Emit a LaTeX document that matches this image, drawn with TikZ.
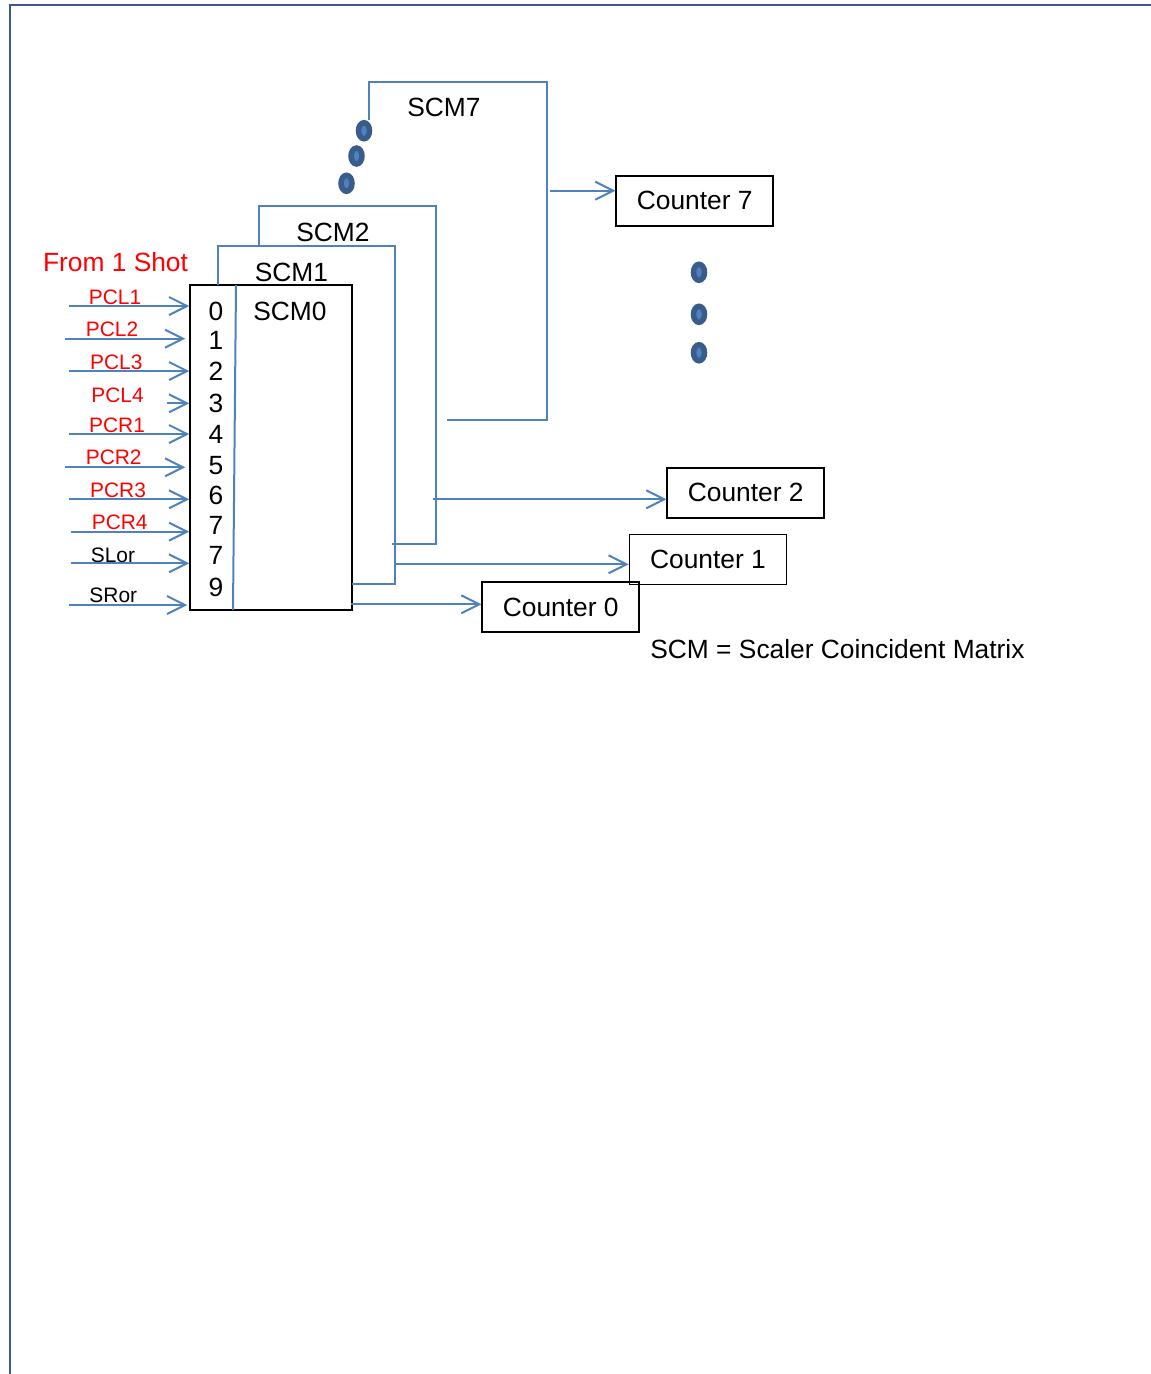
\documentclass[tikz,border=0pt]{standalone}
\usepackage{fontspec}
\setmainfont{Liberation Sans}
\usetikzlibrary{arrows.meta, positioning, calc}
\definecolor{linkblue}{RGB}{79, 129, 189}
\definecolor{dotblue}{RGB}{56, 93, 138}
\definecolor{framenavy}{RGB}{62, 88, 140}
\definecolor{shotred}{RGB}{255, 0, 0}
\newcommand{\mainsize}{\fontsize{15}{17}\selectfont}
\newcommand{\insize}{\fontsize{11.9}{14}\selectfont}
\tikzset{
  cnt box/.style  = {rectangle, draw=black, line width=0.03cm, minimum width=3.14cm, minimum height=1cm, inner sep=0pt, font=\mainsize},
  scm box/.style  = {rectangle, draw=black, line width=0.03cm, minimum width=3.24cm, minimum height=6.5cm, inner sep=0pt},
  link/.style     = {draw=linkblue, line width=0.04cm},
  flow/.style     = {-{Straight Barb[length=0.36cm, width=0.36cm]}, link},
  scmlab/.style   = {font=\mainsize, inner sep=0pt},
  inlab/.style    = {font=\insize, text=shotred, inner sep=0pt},
  dotmark/.style  = {draw=dotblue, fill=linkblue, line width=0.11cm},
}

\begin{document}
\begin{tikzpicture}[x=0.02cm, y=-0.02cm]

\useasboundingbox (0,0) rectangle (1151,1374);

% ==================== frame ====================
\draw[framenavy, line width=0.035cm] (1151,5) -- (10,5) -- (10,1374);

% ==================== SCM0 ====================
\node[scm box] (scm0) at (271,447.5) {};
\draw[link] (236,285) -- (233,610);
\node[scmlab] (l0) at (290,311) {SCM0};

\node[scmlab] (d0) at (216,311)   {0};
\node[scmlab] (d1) at (216,340)   {1};
\node[scmlab] (d2) at (216,371)   {2};
\node[scmlab] (d3) at (216,403)   {3};
\node[scmlab] (d4) at (216,434)   {4};
\node[scmlab] (d5) at (216,465.5) {5};
\node[scmlab] (d6) at (216,495.5) {6};
\node[scmlab] (d7) at (216,525.5) {7};
\node[scmlab] (d8) at (216,555.5) {7};
\node[scmlab] (d9) at (216,587)   {9};

% ==================== SCM1, SCM2, SCM7 ====================
\draw[link] (218,285) -- (218,246) -- (395,246) -- (395,584.3) -- (352,584.3);
\node[scmlab] (l1) at (291.5,272) {SCM1};

\draw[link] (259,246) -- (259,205.7) -- (435.7,205.7) -- (435.7,544) -- (392,544);
\node[scmlab] (l2) at (333,232) {SCM2};

\draw[link] (369,120) -- (369,82) -- (546.7,82) -- (546.7,420) -- (446.7,420);
\node[scmlab] (l7) at (444,107.5) {SCM7};

\draw[dotmark] (364,130.7) ellipse [x radius=0.11cm, y radius=0.16cm];
\draw[dotmark] (356.5,156)  ellipse [x radius=0.11cm, y radius=0.16cm];
\draw[dotmark] (346.5,183.3) ellipse [x radius=0.11cm, y radius=0.16cm];

% ==================== counters ====================
\node[cnt box] (c7) at (694.7,200.9) {Counter 7};
\node[cnt box] (c2) at (745.7,492.9) {Counter 2};
\node[cnt box] (c1) at (708,559.3)   {Counter 1};
\node[cnt box] (c0) at (560.7,607.2) {Counter 0};

\draw[dotmark] (699,272.3) ellipse [x radius=0.11cm, y radius=0.16cm];
\draw[dotmark] (699,314.3) ellipse [x radius=0.11cm, y radius=0.16cm];
\draw[dotmark] (699,352.7) ellipse [x radius=0.11cm, y radius=0.16cm];

\node[scmlab, anchor=west] (note) at (650,649) {SCM = Scaler Coincident Matrix};

% ==================== outputs -> counters ====================
\coordinate (o7) at (550,190.7);
\coordinate (o2) at (433,499.3);
\coordinate (o1) at (395,564.3);
\coordinate (o0) at (351,604.3);

\draw[flow] (o7) -- (o7 -| c7.west);
\draw[flow] (o2) -- (o2 -| c2.west);
\draw[flow] (o1) -- (o1 -| c1.west);
\draw[flow] (o0) -- (o0 -| c0.west);

% ==================== inputs from 1 shot ====================
\node[font=\mainsize, text=shotred, inner sep=0pt] (shot) at (115.5,262) {From 1 Shot};

\node[inlab] (t1) at (115,297.3)   {PCL1};
\node[inlab] (t2) at (112,329.3)   {PCL2};
\node[inlab] (t3) at (116.3,362.3) {PCL3};
\node[inlab] (t4) at (117.5,395.7) {PCL4};
\node[inlab] (t5) at (117,425.7)   {PCR1};
\node[inlab] (t6) at (113.7,457.7) {PCR2};
\node[inlab] (t7) at (118,490)     {PCR3};
\node[inlab] (t8) at (119.7,522.3) {PCR4};
\node[inlab, text=black] (t9) at (113,555)     {SLor};
\node[inlab, text=black] (t10) at (113.3,595.7) {SRor};

\coordinate (i1) at (69,306);
\coordinate (i2) at (65,338.7);
\coordinate (i3) at (69,371);
\coordinate (i4) at (166.7,403.3);
\coordinate (i5) at (69,434);
\coordinate (i6) at (65,467.3);
\coordinate (i7) at (69,499.3);
\coordinate (i8) at (70.7,531.7);
\coordinate (i9) at (70.7,563.3);
\coordinate (i10) at (69,605);

\draw[flow] (i1) -- (i1 -| scm0.west);
\draw[flow] (i2) -- ($(i2 -| scm0.west)+(-4,0)$);
\draw[flow] (i3) -- (i3 -| scm0.west);
\draw[flow] (i4) -- (i4 -| scm0.west);
\draw[flow] (i5) -- (i5 -| scm0.west);
\draw[flow] (i6) -- ($(i6 -| scm0.west)+(-4,0)$);
\draw[flow] (i7) -- (i7 -| scm0.west);
\draw[flow] (i8) -- (i8 -| scm0.west);
\draw[flow] (i9) -- (i9 -| scm0.west);
\draw[flow] (i10) -- ($(i10 -| scm0.west)+(-2,0)$);

\end{tikzpicture}
\end{document}
